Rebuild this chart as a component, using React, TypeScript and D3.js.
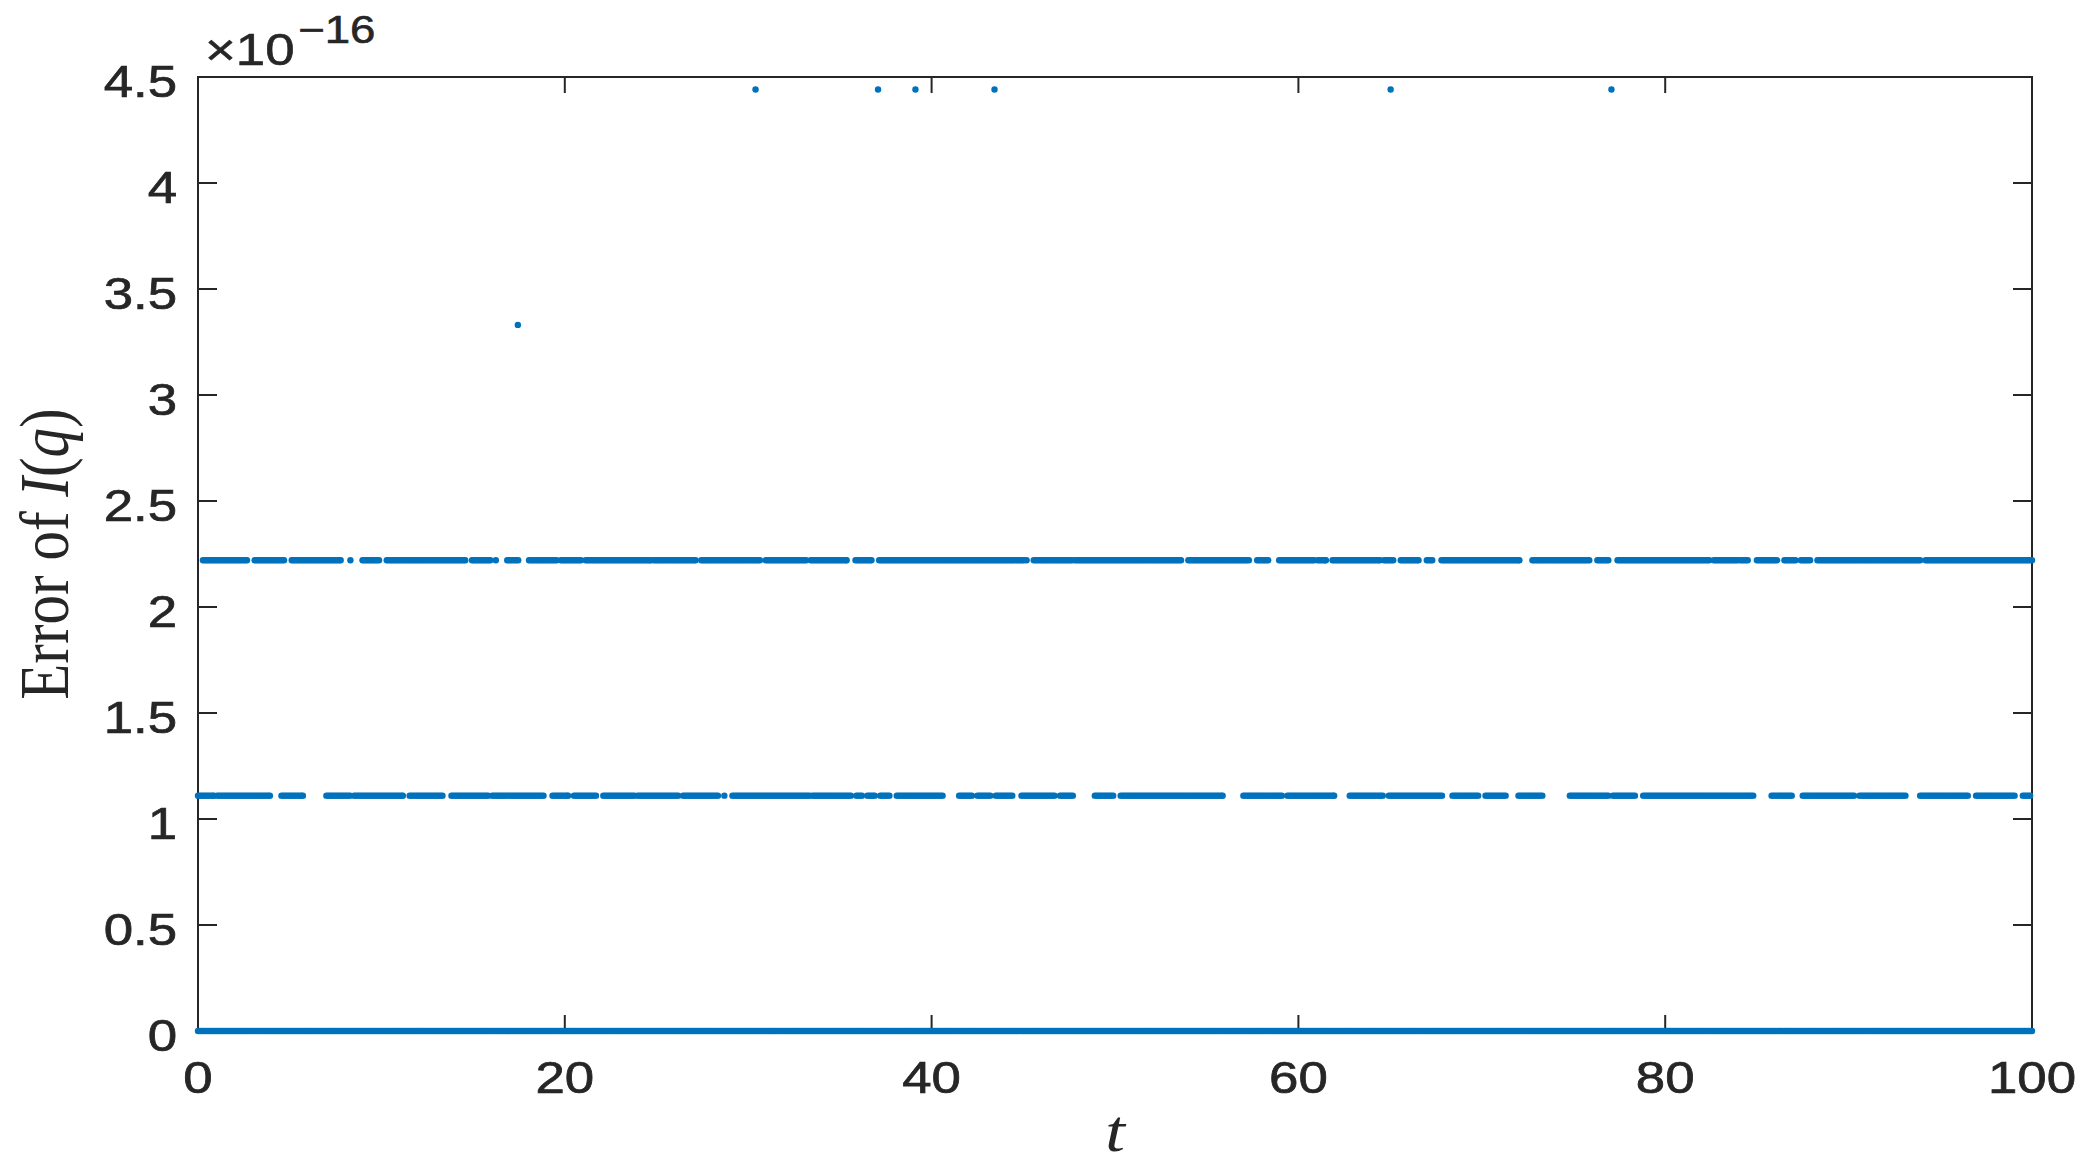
import React from 'react';
import * as d3 from 'd3';

const W = 2088;
const H = 1169;

const xTicks = [0, 20, 40, 60, 80, 100];
const xTickLabels = ['0', '20', '40', '60', '80', '100'];
const yTicks = [0, 0.5, 1, 1.5, 2, 2.5, 3, 3.5, 4, 4.5];
const yTickLabels = ['0', '0.5', '1', '1.5', '2', '2.5', '3', '3.5', '4', '4.5'];

// error levels (in units of 1e-16)
const levelValues = [0, 1.1102, 2.2204, 3.3307, 4.4409];

// sampling step of the time grid
const sampleStep = 0.1;

// runs of consecutive samples (t start, t end) at each level
const zeroRuns = [[0, 100]];
const level1Runs = [
  [0, 0.86], [1.04, 3.92], [4.55, 5.72], [7.0, 8.33], [8.51, 11.17], [11.54, 13.33],
  [13.82, 15.87], [16.04, 18.86], [19.33, 20.18], [20.5, 21.72], [22.1, 23.81],
  [23.98, 26.22], [26.45, 28.4], [28.7, 28.74], [29.14, 33.34], [33.5, 35.6],
  [35.9, 36.2], [36.5, 36.9], [37.2, 37.7], [38.1, 40.6], [41.5, 42.2], [42.5, 43.2],
  [43.5, 44.4], [44.9, 46.7], [47.0, 47.7], [48.9, 49.9], [50.31, 55.87], [57.0, 59.1],
  [59.4, 61.95], [62.8, 64.6], [64.93, 67.84], [68.4, 69.8], [70.2, 71.33], [72.0, 73.3],
  [74.8, 76.9], [77.15, 78.35], [78.8, 84.8], [85.8, 86.9], [87.5, 90.3], [90.6, 93.1],
  [93.9, 96.5], [96.95, 99.05], [99.5, 99.9],
];
const level2Runs = [
  [0.27, 2.71], [3.09, 4.7], [5.11, 7.78], [8.31, 8.35], [8.97, 9.91], [10.29, 14.57],
  [14.94, 15.97], [16.24, 16.28], [16.86, 17.49], [18.05, 19.57], [19.78, 20.93],
  [21.14, 24.69], [24.85, 27.13], [27.44, 30.68], [30.96, 33.18], [33.41, 35.37],
  [35.85, 36.72], [37.14, 45.08], [45.18, 45.22], [45.57, 47.66], [47.82, 53.6],
  [54.0, 57.3], [57.75, 58.4], [58.95, 60.9], [61.05, 61.5], [61.86, 64.45], [64.67, 65.2],
  [65.58, 66.55], [67.0, 67.35], [67.8, 72.05], [72.76, 75.9], [76.3, 76.9], [77.4, 82.45],
  [82.65, 83.95], [84.1, 84.5], [85.0, 86.1], [86.5, 87.1], [87.4, 87.95], [88.3, 93.9],
  [94.2, 100],
];
const level3Times = [17.44];
const level4Times = [30.4, 37.08, 39.12, 43.43, 65.03, 77.07];

const margin = { left: 198, right: 2032, top: 77, bottom: 1031 };
const SX = 1.2; // horizontal stretch of glyphs in the reference
const axisColor = '#262626';
const dotColor = '#0072BD';

function runsToPoints(runs: number[][], v: number) {
  const pts: { t: number; v: number }[] = [];
  runs.forEach(([a, b]) => {
    const n = Math.max(0, Math.round((b - a) / sampleStep));
    for (let i = 0; i <= n; i++) pts.push({ t: Math.min(b, a + i * sampleStep), v });
  });
  return pts;
}

export default function App() {
  const x = d3.scaleLinear().domain([0, 100]).range([margin.left, margin.right]);
  const y = d3.scaleLinear().domain([0, 4.5]).range([margin.bottom, margin.top]);

  const points = [
    ...runsToPoints(zeroRuns, levelValues[0]),
    ...runsToPoints(level1Runs, levelValues[1]),
    ...runsToPoints(level2Runs, levelValues[2]),
    ...level3Times.map((t) => ({ t, v: levelValues[3] })),
    ...level4Times.map((t) => ({ t, v: levelValues[4] })),
  ];

  const sans = "'Liberation Sans', Arial, Helvetica, sans-serif";
  const serif = "'Liberation Serif', 'Times New Roman', serif";
  const xTickLen = 16;
  const yTickLen = 19;

  return (
    <svg width={W} height={H} style={{ position: 'absolute', left: 0, top: 0, background: '#fff' }}>
      <rect x={0} y={0} width={W} height={H} fill="#fff" />
      {/* box */}
      <rect
        x={margin.left}
        y={margin.top}
        width={margin.right - margin.left}
        height={margin.bottom - margin.top}
        fill="none"
        stroke={axisColor}
        strokeWidth={2}
      />
      {/* x ticks */}
      {xTicks.map((t) => (
        <g key={'xt' + t}>
          <line x1={x(t)} x2={x(t)} y1={margin.bottom} y2={margin.bottom - xTickLen} stroke={axisColor} strokeWidth={2} />
          <line x1={x(t)} x2={x(t)} y1={margin.top} y2={margin.top + xTickLen} stroke={axisColor} strokeWidth={2} />
        </g>
      ))}
      {/* y ticks */}
      {yTicks.map((v) => (
        <g key={'yt' + v}>
          <line x1={margin.left} x2={margin.left + yTickLen} y1={y(v)} y2={y(v)} stroke={axisColor} strokeWidth={2} />
          <line x1={margin.right} x2={margin.right - yTickLen} y1={y(v)} y2={y(v)} stroke={axisColor} strokeWidth={2} />
        </g>
      ))}
      {/* data */}
      <g fill={dotColor}>
        {points.map((p, i) => (
          <circle key={i} cx={x(p.t)} cy={y(p.v)} r={3.2} />
        ))}
      </g>
      {/* x tick labels */}
      {xTicks.map((t, i) => (
        <text
          key={'xl' + t}
          transform={`translate(${x(t)},${margin.bottom + 62}) scale(${SX},1)`}
          textAnchor="middle"
          fontFamily={sans}
          fontSize={44}
          fill={axisColor}
          stroke={axisColor}
          strokeWidth={0.7}
        >
          {xTickLabels[i]}
        </text>
      ))}
      {/* y tick labels */}
      {yTicks.map((v, i) => (
        <text
          key={'yl' + v}
          transform={`translate(${margin.left - 21},${y(v) + 20}) scale(${SX},1)`}
          textAnchor="end"
          fontFamily={sans}
          fontSize={44}
          fill={axisColor}
          stroke={axisColor}
          strokeWidth={0.7}
        >
          {yTickLabels[i]}
        </text>
      ))}
      {/* exponent */}
      <text
        transform={`translate(205,65) scale(${SX},1)`}
        fontFamily={sans}
        fill={axisColor}
        stroke={axisColor}
        strokeWidth={0.6}
      >
        <tspan fontSize={44}>×10</tspan>
        <tspan fontSize={38} dy={-22} dx={3}>−16</tspan>
      </text>
      {/* x label */}
      <text
        transform={`translate(${(margin.left + margin.right) / 2},1151) scale(${SX},1)`}
        textAnchor="middle"
        fontFamily={serif}
        fontStyle="italic"
        fontSize={59}
        fill={axisColor}
      >
        t
      </text>
      {/* y label */}
      <text
        transform={`translate(68,${(margin.top + margin.bottom) / 2}) rotate(-90) scale(1,${SX})`}
        textAnchor="middle"
        fontFamily={serif}
        fontSize={59}
        fill={axisColor}
      >
        Error of <tspan fontStyle="italic">I</tspan>(<tspan fontStyle="italic">q</tspan>)
      </text>
    </svg>
  );
}
